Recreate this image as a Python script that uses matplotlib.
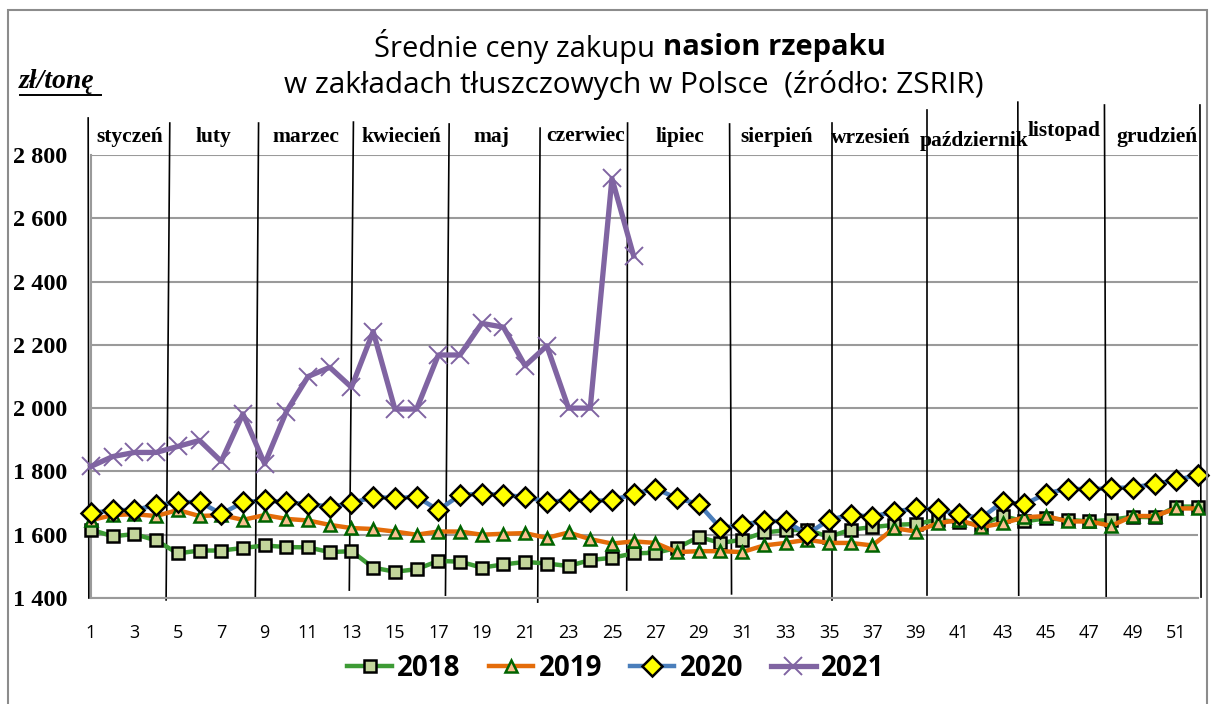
import numpy as np
import matplotlib
matplotlib.use("Agg")
import matplotlib.pyplot as plt
from matplotlib import font_manager
from matplotlib.lines import Line2D

# pick the first installed family from a list
def pick_font(names):
    have = set(f.name for f in font_manager.fontManager.ttflist)
    for n in names:
        if n in have:
            return n
    return "DejaVu Sans"

sans = pick_font(["Liberation Sans Narrow", "Open Sans", "Liberation Sans"])
serif = pick_font(["Liberation Serif", "DejaVu Serif"])

# data: average weekly prices (zl/t)
weeks = np.arange(1, 53)

p2018 = [1616, 1595, 1602, 1582, 1541, 1550, 1550, 1558, 1566, 1561,
         1560, 1545, 1548, 1496, 1483, 1491, 1517, 1515, 1496, 1506,
         1514, 1509, 1501, 1520, 1527, 1541, 1543, 1558, 1593, 1574,
         1584, 1607, 1614, 1616, 1593, 1616, 1624, 1631, 1634, 1647,
         1640, 1631, 1659, 1642, 1652, 1647, 1642, 1647, 1657, 1655,
         1689, 1689]

p2019 = [1646, 1662, 1665, 1659, 1678, 1659, 1662, 1647, 1662, 1650,
         1645, 1631, 1621, 1618, 1610, 1600, 1610, 1610, 1600, 1603,
         1605, 1590, 1607, 1586, 1572, 1579, 1574, 1545, 1548, 1548,
         1545, 1566, 1574, 1584, 1574, 1574, 1566, 1621, 1610, 1636,
         1647, 1624, 1636, 1655, 1659, 1642, 1642, 1628, 1659, 1659,
         1683, 1683]

p2020 = [1668, 1678, 1678, 1694, 1702, 1704, 1666, 1702, 1709, 1702,
         1697, 1689, 1699, 1720, 1715, 1720, 1678, 1725, 1730, 1725,
         1720, 1704, 1709, 1707, 1709, 1728, 1746, 1715, 1697, 1621,
         1631, 1644, 1642, 1602, 1647, 1663, 1657, 1673, 1683, 1680,
         1665, 1652, 1704, 1696, 1730, 1746, 1743, 1748, 1749, 1761,
         1772, 1790]

p2021 = [1816, 1847, 1860, 1860, 1879, 1898, 1832, 1982, 1824, 1989,
         2100, 2129, 2066, 2242, 1997, 1997, 2168, 2168, 2268, 2256,
         2134, 2197, 2000, 2000, 2726, 2481]

months = ["styczeń", "luty", "marzec", "kwiecień", "maj", "czerwiec",
          "lipiec", "sierpień", "wrzesień", "październik", "listopad", "grudzień"]

xticks = list(range(1, 52, 2))
yticks = [1400, 1600, 1800, 2000, 2200, 2400, 2600, 2800]
ytick_labels = ["1 400", "1 600", "1 800", "2 000", "2 200", "2 400", "2 600", "2 800"]

# layout of hand drawn month dividers and month labels (week units)
div_x_top = [0.87, 4.63, 8.72, 13.09, 17.50, 21.69, 25.72, 30.42, 35.16, 39.51, 43.70, 47.69, 52.09]
div_x_bot = [0.90, 4.46, 8.57, 12.90, 17.33, 21.58, 25.68, 30.51, 35.16, 39.51, 43.74, 47.77, 52.14]
div_y_top = [2917, 2901, 2901, 2904, 2898, 2885, 2901, 2898, 2901, 2942, 2967, 2958, 2958]
div_y_bot = [1400, 1394, 1403, 1425, 1409, 1387, 1425, 1413, 1394, 1409, 1409, 1400, 1403]
lab_x = [2.78, 6.64, 10.92, 15.29, 19.43, 23.80, 28.13, 32.59, 36.91, 41.70, 45.85, 50.12]
lab_y = [2857, 2857, 2857, 2857, 2857, 2860, 2857, 2857, 2854, 2844, 2876, 2857]

W, H = 1211, 704
fig = plt.figure(figsize=(W / 100, H / 100), dpi=100)
ax = fig.add_axes([91 / W, 1 - 598 / H, (1198 - 91) / W, (598 - 155) / H])

ax.plot(weeks, p2018, color="#3d9b35", lw=3.2, marker="s", ms=8,
        mfc="#c3d69b", mec="black", mew=1.8, label="2018", clip_on=False, zorder=3)
ax.plot(weeks, p2019, color="#e46c0a", lw=3.2, marker="^", ms=9,
        mfc="#fac090", mec="#006400", mew=1.8, label="2019", clip_on=False, zorder=4)
ax.plot(weeks, p2020, color="#4a7ebb", lw=3.2, marker="D", ms=10,
        mfc="#ffff00", mec="black", mew=1.8, label="2020", clip_on=False, zorder=5)
ax.plot(weeks[:len(p2021)], p2021, color="#8064a2", lw=3.8, marker="x", ms=13,
        mec="#8064a2", mew=1.4, label="2021", clip_on=False, zorder=6)

ax.set_xlim(1, 52)
ax.set_ylim(1400, 2800)
ax.set_yticks(yticks)
ax.set_yticklabels(ytick_labels, fontfamily=serif, fontweight="bold", fontsize=17.5)
ax.set_xticks(xticks)
ax.set_xticklabels([str(t) for t in xticks], fontfamily=sans, fontsize=13)
ax.tick_params(axis="y", length=0, pad=17)
ax.tick_params(axis="x", length=0, pad=19)
ax.grid(axis="y", color="#9a9a9a", lw=1.5)
ax.set_axisbelow(True)
for s in ["top", "right"]:
    ax.spines[s].set_visible(False)
ax.spines["left"].set_color("#9a9a9a")
ax.spines["bottom"].set_color("#9a9a9a")
ax.spines["left"].set_linewidth(1.5)
ax.spines["bottom"].set_linewidth(1.5)

# month dividers and names
for xt, xb, yt, yb in zip(div_x_top, div_x_bot, div_y_top, div_y_bot):
    ax.plot([xt, xb], [yt, yb], color="black", lw=1.2, clip_on=False, zorder=2)
for name, x, y in zip(months, lab_x, lab_y):
    ax.text(x, y, name, ha="center", va="center", fontfamily=serif,
            fontweight="bold", fontsize=15.5, clip_on=False)

# title
fig.text(655 / W, 1 - 47 / H, "Średnie ceny zakupu", ha="right", va="center",
         fontfamily=sans, fontsize=21)
fig.text(663 / W, 1 - 47 / H, "nasion rzepaku", ha="left", va="center",
         fontfamily=sans, fontsize=21, fontweight="bold")
fig.text(634 / W, 1 - 85 / H, "w zakładach tłuszczowych w Polsce  (źródło: ZSRIR)",
         ha="center", va="center", fontfamily=sans, fontsize=21.5)

# unit label
fig.text(19 / W, 1 - 82 / H, "zł/tonę", ha="left", va="center", fontfamily=serif,
         fontweight="bold", fontstyle="italic", fontsize=20)
fig.add_artist(Line2D([20 / W, 101 / W], [1 - 95 / H, 1 - 95 / H], color="black", lw=1.4))

# chart border
fig.add_artist(plt.Rectangle((8 / W, -0.01), (1207 - 8) / W, 1 - 10 / H + 0.01,
                             fill=False, ec="#8c8c8c", lw=1.5))

leg = fig.legend(loc="center", bbox_to_anchor=(616 / W, 1 - 668 / H), ncol=4,
                 frameon=False, prop={"family": sans, "weight": "bold", "size": 20},
                 handlelength=1.6, handletextpad=0.2, columnspacing=1.0)

fig.savefig("out.png", dpi=100)
